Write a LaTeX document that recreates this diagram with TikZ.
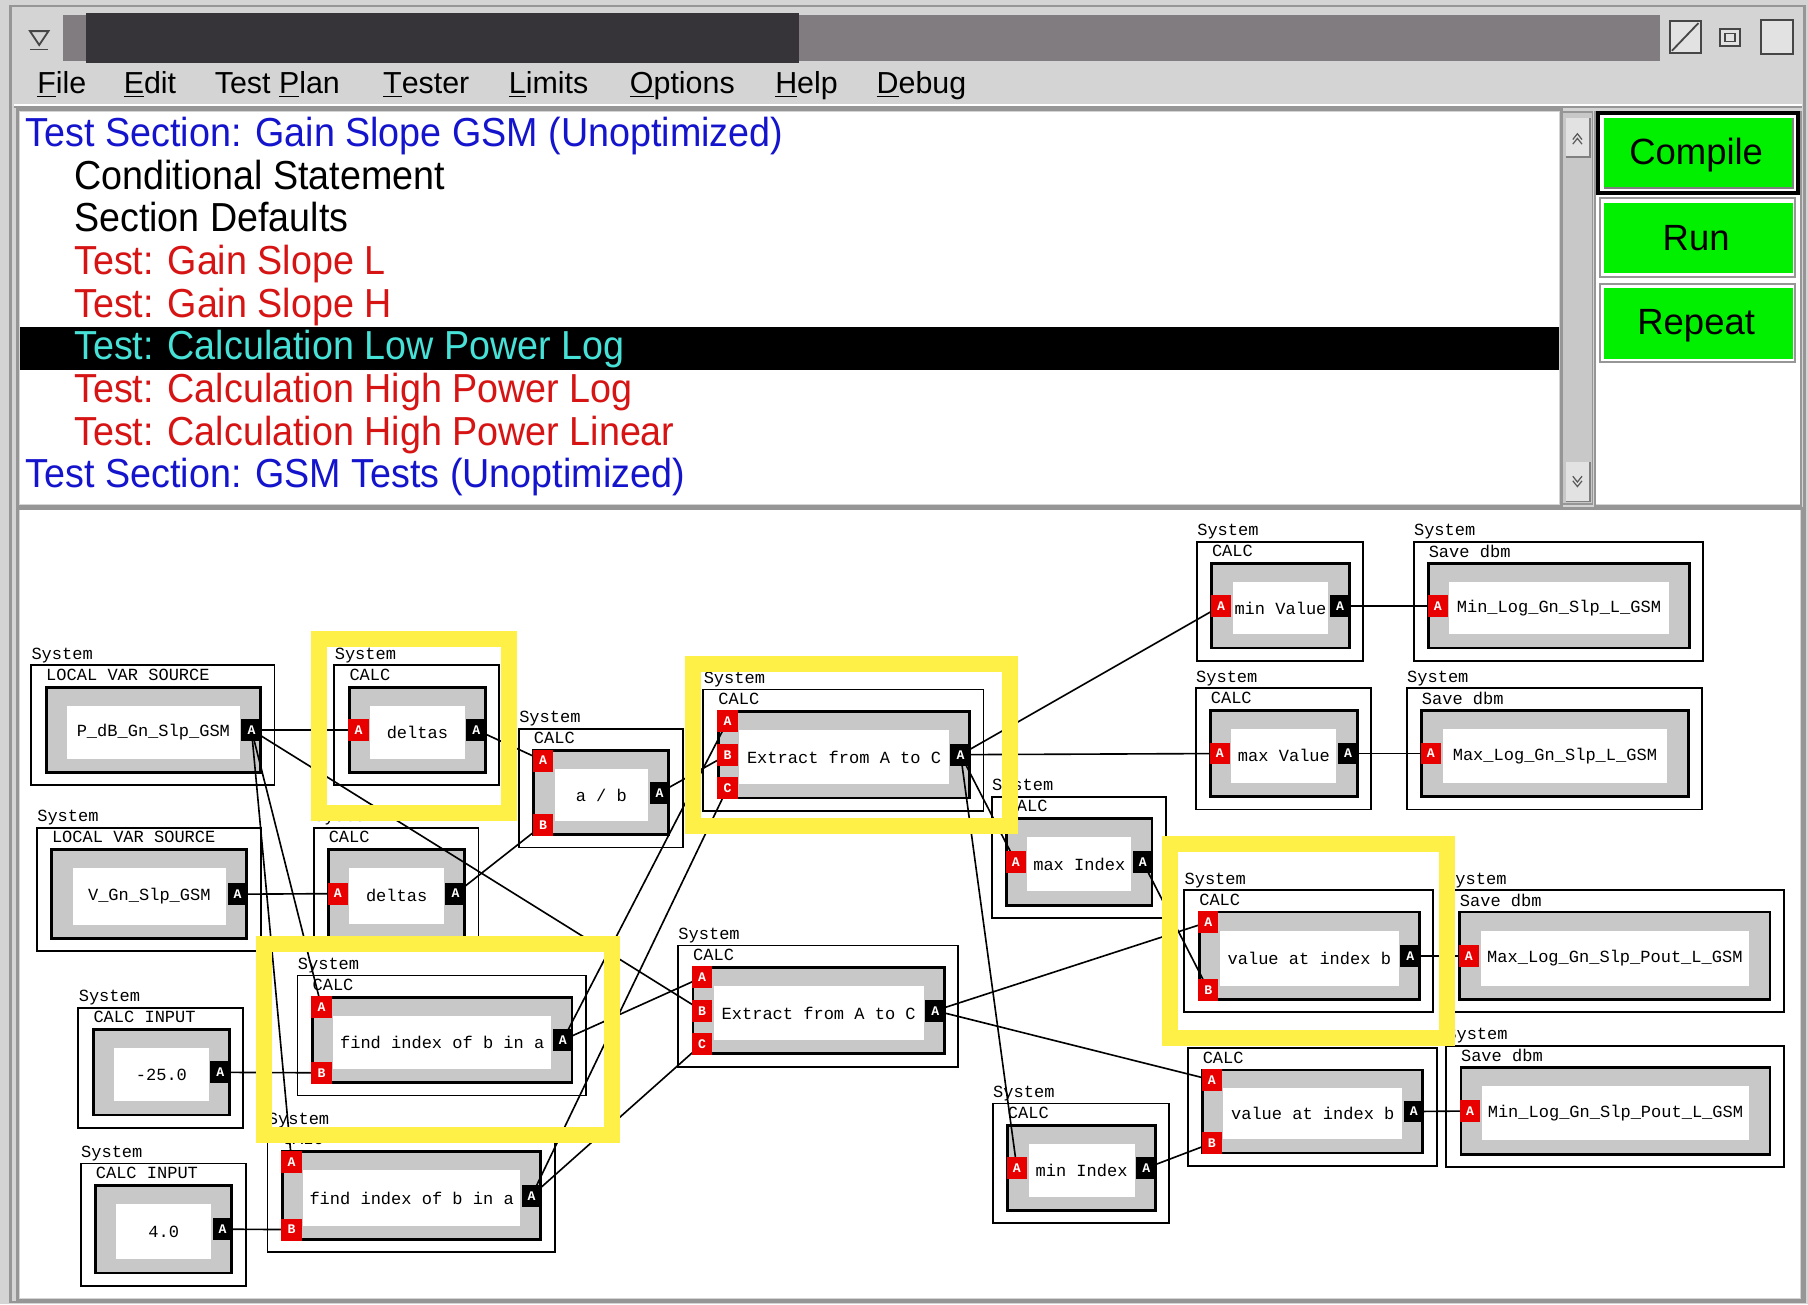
\documentclass[tikz,border=0pt]{standalone}
\usepackage{fontspec}
\setmainfont{Liberation Sans}
\newfontfamily\monof{Liberation Mono}
\newfontfamily\listfont[FakeStretch=0.93]{Liberation Sans}
\usetikzlibrary{fit,calc}
\pgfdeclarelayer{wires}
\pgfdeclarelayer{ports}
\pgfdeclarelayer{hilite}
\pgfsetlayers{main,wires,ports,hilite}

\definecolor{winbg}{RGB}{212,212,212}
\definecolor{titlegray}{RGB}{128,124,128}
\definecolor{titledark}{RGB}{54,52,56}
\definecolor{blkgray}{RGB}{200,200,200}
\definecolor{portred}{RGB}{232,0,0}
\definecolor{hlyellow}{RGB}{255,240,72}
\definecolor{listblue}{RGB}{20,20,205}
\definecolor{listred}{RGB}{215,20,20}
\definecolor{listcyan}{RGB}{70,225,215}
\definecolor{btngreen}{RGB}{0,240,0}
\definecolor{framegray}{RGB}{150,150,150}
\definecolor{lightgray2}{RGB}{226,226,226}

\newcommand\dfont{\monof\fontsize{8.4}{9}\selectfont}
\newcommand\pfont{\monof\bfseries\fontsize{6.5}{7}\selectfont}

\tikzset{
  outerbox/.style={draw=black, line width=0.9pt, fill=white, inner sep=0pt},
  innerbox/.style={draw=black, line width=1.4pt, fill=blkgray, inner sep=0pt},
  whitebox/.style={fill=white, inner sep=0pt},
  syslbl/.style={font=\dfont, anchor=south west, inner xsep=0pt, inner ysep=1pt},
  typelbl/.style={font=\dfont, anchor=north west, inner sep=1pt},
  blktext/.style={font=\dfont, inner sep=0pt},
  portbase/.style={minimum width=10pt, minimum height=10.8pt, inner sep=0pt, text=white, font=\pfont},
  inport/.style={portbase, fill=portred},
  outport/.style={portbase, fill=black},
  wire/.style={draw=black, line width=0.8pt},
  hlframe/.style={draw=hlyellow, line width=7.9pt},
  listtxt/.style={anchor=base west, inner sep=0pt, font=\listfont\fontsize{20}{22}\selectfont},
  menutxt/.style={anchor=base west, inner sep=0pt, font=\fontsize{15}{17}\selectfont},
  btntxt/.style={anchor=base, inner sep=0pt, font=\fontsize{18}{20}\selectfont},
  iconst/.style={draw=gray!55!black, line width=0.9pt},
}

\newcommand\blk[7]{%
  \node[outerbox, fit={(#2,#3) (#4,#5)}] (#1) {};
  \node[syslbl] (#1-sys) at (#2,#3) {System};
  \node[typelbl] (#1-typ) at ($(#2,#3)+(11,1)$) {#6};
  \node[innerbox, fit={($(#2,#3)+(13,19)$) ($(#4,#5)+(-12,-11)$)}] (#1-in) {};
  \node[whitebox, fit={($(#2,#3)+(31,35)$) ($(#4,#5)+(-30,-23)$)}] (#1-w) {};
  \node[blktext] (#1-t) at (#1-w.center) {#7};
}
\newcommand\port[5]{\begin{pgfonlayer}{ports}\node[#1, anchor=#3] (#2) at (#4) {#5};\end{pgfonlayer}}

\begin{document}
\begin{tikzpicture}[x=0.02cm, y=-0.02cm]
\useasboundingbox (0,0) rectangle (1568,1131);
% window background
\fill[winbg] (0,0) rectangle (1568,1131);
\draw[framegray, line width=1.2pt] (9,5) rectangle (1565,1129);
% title bar
\fill[titlegray] (55,13) rectangle (1440,53);
\fill[titledark] (75,11) rectangle (693,55);
\draw[iconst] (26,27) -- (42,27) -- (34,39) -- cycle;
\draw[iconst] (26,43) -- (42,43);
\draw[iconst, fill=lightgray2] (1448,18) rectangle (1475,46);
\draw[iconst] (1450,44) -- (1473,20);
\draw[iconst, fill=lightgray2] (1492,25) rectangle (1509,40);
\draw[iconst] (1496,29) rectangle (1505,36);
\draw[iconst, fill=lightgray2] (1527,17) rectangle (1555,47);
% menu
\node[menutxt] (mfile) at (32,81) {\underline{F}ile};
\node[menutxt] (medit) at (107,81) {\underline{E}dit};
\node[menutxt] (mplan) at (186,81) {Test \underline{P}lan};
\node[menutxt] (mtester) at (332,81) {\underline{T}ester};
\node[menutxt] (mlimits) at (441,81) {\underline{L}imits};
\node[menutxt] (moptions) at (546,81) {\underline{O}ptions};
\node[menutxt] (mhelp) at (672,81) {\underline{H}elp};
\node[menutxt] (mdebug) at (760,81) {\underline{D}ebug};
\draw[white, line width=0.8pt] (12,91) -- (1563,91);
\draw[framegray, line width=0.8pt] (12,93) -- (1563,93);
% list panel
\fill[white] (17,97) rectangle (1352,437);
\draw[framegray, line width=1.5pt] (15,95) rectangle (1354,439);
\fill[black] (17,284) rectangle (1352,321);
\node[listtxt, text=listblue] (l1) at (22,127) {Test Section: Gain Slope GSM (Unoptimized)};
\node[listtxt, text=black] (l2) at (64,164) {Conditional Statement};
\node[listtxt, text=black] (l3) at (64,201) {Section Defaults};
\node[listtxt, text=listred] (l4) at (64,238) {Test: Gain Slope L};
\node[listtxt, text=listred] (l5) at (64,275) {Test: Gain Slope H};
\node[listtxt, text=listcyan] (l6) at (64,312) {Test: Calculation Low Power Log};
\node[listtxt, text=listred] (l7) at (64,349) {Test: Calculation High Power Log};
\node[listtxt, text=listred] (l8) at (64,386) {Test: Calculation High Power Linear};
\node[listtxt, text=listblue] (l9) at (22,423) {Test Section: GSM Tests (Unoptimized)};
% scrollbar
\fill[blkgray] (1355,97) rectangle (1381,437);
\draw[framegray, line width=0.8pt] (1355,97) rectangle (1381,437);
\fill[lightgray2] (1358,102) rectangle (1379,136);
\draw[gray, line width=0.8pt] (1358,136) -- (1379,136) -- (1379,102);
\draw[gray!70!black, line width=0.6pt] (1364,121) -- (1368,116) -- (1372,121);
\draw[gray!70!black, line width=0.6pt] (1364,125) -- (1368,120) -- (1372,125);
\fill[lightgray2] (1358,401) rectangle (1379,435);
\draw[gray, line width=0.8pt] (1358,435) -- (1379,435) -- (1379,401);
\draw[gray!70!black, line width=0.6pt] (1364,413) -- (1368,418) -- (1372,413);
\draw[gray!70!black, line width=0.6pt] (1364,417) -- (1368,422) -- (1372,417);
% buttons
\fill[white] (1383,97) rectangle (1562,437);
\draw[framegray, line width=1pt] (1383,97) rectangle (1562,439);
\draw[black, line width=2pt] (1386,98) rectangle (1559,167);
\fill[btngreen] (1391,102) rectangle (1555,163);
\draw[gray, line width=0.8pt] (1391,163) -- (1555,163) -- (1555,102);
\draw[framegray, line width=1pt] (1388,172) rectangle (1557,240);
\fill[btngreen] (1391,176) rectangle (1555,237);
\draw[framegray, line width=1pt] (1388,246) rectangle (1557,314);
\fill[btngreen] (1391,250) rectangle (1555,311);
\node[btntxt] (bcompile) at (1471,143) {Compile};
\node[btntxt] (brun) at (1471,217) {Run};
\node[btntxt] (brepeat) at (1471,290) {Repeat};
% canvas
\fill[white] (17,442) rectangle (1561,1126);
\draw[framegray, line width=1.5pt] (15,441) rectangle (1563,1128);

% ---------------- blocks ----------------
\blk{s1}{27}{577}{238}{681}{LOCAL VAR SOURCE}{P\_dB\_Gn\_Slp\_GSM}
\port{outport}{s1o}{east}{s1-in.east}{A}

\blk{d1}{290}{577}{433}{681}{CALC}{deltas}
\port{inport}{d1a}{west}{d1-in.west}{A}
\port{outport}{d1o}{east}{d1-in.east}{A}

\blk{dv}{450}{632}{592}{735}{CALC}{a / b}
\port{inport}{dva}{north west}{dv-in.north west}{A}
\port{inport}{dvb}{south west}{dv-in.south west}{B}
\port{outport}{dvo}{east}{dv-in.east}{A}

\blk{e1}{610}{598}{853}{703}{CALC}{Extract from A to C}
\port{inport}{e1a}{north west}{e1-in.north west}{A}
\port{inport}{e1b}{west}{e1-in.west}{B}
\port{inport}{e1c}{south west}{e1-in.south west}{C}
\port{outport}{e1o}{east}{e1-in.east}{A}

\blk{mv}{1038}{470}{1182}{573}{CALC}{min Value}
\port{inport}{mva}{west}{mv-in.west}{A}
\port{outport}{mvo}{east}{mv-in.east}{A}

\blk{sv1}{1226}{470}{1477}{573}{Save dbm}{Min\_Log\_Gn\_Slp\_L\_GSM}
\port{inport}{sv1a}{west}{sv1-in.west}{A}

\blk{xv}{1037}{597}{1189}{702}{CALC}{max Value}
\port{inport}{xva}{west}{xv-in.west}{A}
\port{outport}{xvo}{east}{xv-in.east}{A}

\blk{sv2}{1220}{597}{1476}{702}{Save dbm}{Max\_Log\_Gn\_Slp\_L\_GSM}
\port{inport}{sv2a}{west}{sv2-in.west}{A}

\blk{xi}{860}{691}{1011}{796}{CALC}{max Index}
\port{inport}{xia}{west}{xi-in.west}{A}
\port{outport}{xio}{east}{xi-in.east}{A}

\blk{v1}{1027}{772}{1243}{878}{CALC}{value at index b}
\port{inport}{v1a}{north west}{v1-in.north west}{A}
\port{inport}{v1b}{south west}{v1-in.south west}{B}
\port{outport}{v1o}{east}{v1-in.east}{A}

\blk{sv3}{1253}{772}{1547}{878}{Save dbm}{Max\_Log\_Gn\_Slp\_Pout\_L\_GSM}
\port{inport}{sv3a}{west}{sv3-in.west}{A}

\blk{s2}{32}{718}{226}{825}{LOCAL VAR SOURCE}{V\_Gn\_Slp\_GSM}
\port{outport}{s2o}{east}{s2-in.east}{A}

\blk{d2}{272}{718}{415}{824}{CALC}{deltas}
\port{inport}{d2a}{west}{d2-in.west}{A}
\port{outport}{d2o}{east}{d2-in.east}{A}

\blk{f1}{258}{846}{508}{950}{CALC}{find index of b in a}
\port{inport}{f1a}{north west}{f1-in.north west}{A}
\port{inport}{f1b}{south west}{f1-in.south west}{B}
\port{outport}{f1o}{east}{f1-in.east}{A}

\blk{i1}{68}{874}{211}{978}{CALC INPUT}{-25.0}
\port{outport}{i1o}{east}{i1-in.east}{A}

\blk{e2}{588}{820}{831}{925}{CALC}{Extract from A to C}
\port{inport}{e2a}{north west}{e2-in.north west}{A}
\port{inport}{e2b}{west}{e2-in.west}{B}
\port{inport}{e2c}{south west}{e2-in.south west}{C}
\port{outport}{e2o}{east}{e2-in.east}{A}

\blk{ni}{861}{957}{1014}{1061}{CALC}{min Index}
\port{inport}{nia}{west}{ni-in.west}{A}
\port{outport}{nio}{east}{ni-in.east}{A}

\blk{v2}{1030}{909}{1246}{1011}{CALC}{value at index b}
\port{inport}{v2a}{north west}{v2-in.north west}{A}
\port{inport}{v2b}{south west}{v2-in.south west}{B}
\port{outport}{v2o}{east}{v2-in.east}{A}

\blk{sv4}{1254}{907}{1547}{1012}{Save dbm}{Min\_Log\_Gn\_Slp\_Pout\_L\_GSM}
\port{inport}{sv4a}{west}{sv4-in.west}{A}

\blk{f2}{232}{980}{481}{1086}{CALC}{find index of b in a}
\port{inport}{f2a}{north west}{f2-in.north west}{A}
\port{inport}{f2b}{south west}{f2-in.south west}{B}
\port{outport}{f2o}{east}{f2-in.east}{A}

\blk{i2}{70}{1009}{213}{1115}{CALC INPUT}{4.0}
\port{outport}{i2o}{east}{i2-in.east}{A}

% ---------------- wires ----------------
\begin{pgfonlayer}{wires}
\draw[wire] (s1o.center) -- (d1a.center);
\draw[wire] (s1o.center) -- (e2b.center);
\draw[wire] (s1o.center) -- (f1a.center);
\draw[wire] (s1o.center) -- (f2a.center);
\draw[wire] (d1o.center) -- (dva.center);
\draw[wire] (s2o.center) -- (d2a.center);
\draw[wire] (d2o.center) -- (dvb.center);
\draw[wire] (dvo.center) -- (e1b.center);
\draw[wire] (f1o.center) -- (e1a.center);
\draw[wire] (f2o.center) -- (e1c.center);
\draw[wire] (f1o.center) -- (e2a.center);
\draw[wire] (f2o.center) -- (e2c.center);
\draw[wire] (i1o.center) -- (f1b.center);
\draw[wire] (i2o.center) -- (f2b.center);
\draw[wire] (e1o.center) -- (mva.center);
\draw[wire] (e1o.center) -- (xva.center);
\draw[wire] (e1o.center) -- (xia.center);
\draw[wire] (e1o.center) -- (nia.center);
\draw[wire] (mvo.center) -- (sv1a.center);
\draw[wire] (xvo.center) -- (sv2a.center);
\draw[wire] (e2o.center) -- (v1a.center);
\draw[wire] (e2o.center) -- (v2a.center);
\draw[wire] (xio.center) -- (v1b.center);
\draw[wire] (nio.center) -- (v2b.center);
\draw[wire] (v1o.center) -- (sv3a.center);
\draw[wire] (v2o.center) -- (sv4a.center);
\end{pgfonlayer}

% ---------------- highlight frames ----------------
\begin{pgfonlayer}{hilite}
\draw[hlframe] (277,554) rectangle (441,705);
\draw[hlframe] (601,576) rectangle (876,716);
\draw[hlframe] (229,819) rectangle (531,984);
\draw[hlframe] (1015,732) rectangle (1255,900);
\end{pgfonlayer}
\end{tikzpicture}
\end{document}
